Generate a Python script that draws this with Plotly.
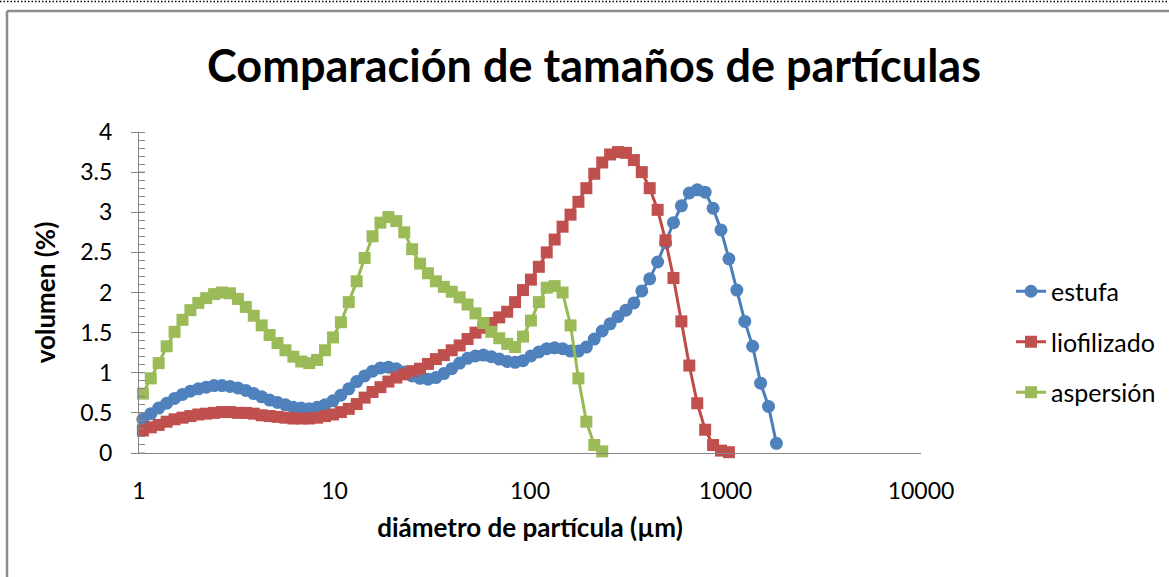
import plotly.graph_objects as go

# particle diameter classes (um)
x_um = [1.047, 1.149, 1.261, 1.385, 1.520, 1.669, 1.832, 2.011, 2.208, 2.423,
        2.660, 2.920, 3.206, 3.519, 3.863, 4.241, 4.656, 5.111, 5.611, 6.159,
        6.761, 7.422, 8.148, 8.944, 9.819, 10.78, 11.83, 12.99, 14.26, 15.65,
        17.18, 18.86, 20.71, 22.73, 24.95, 27.39, 30.07, 33.01, 36.24, 39.78,
        43.67, 47.94, 52.62, 57.77, 63.41, 69.61, 76.42, 83.89, 92.09, 101.1,
        111.0, 121.8, 133.7, 146.8, 161.2, 176.9, 194.2, 213.2, 234.1, 256.9,
        282.1, 309.6, 339.9, 373.1, 409.6, 449.7, 493.6, 541.9, 594.9, 653.0,
        716.9, 786.9, 863.9, 948.3, 1041, 1143, 1255, 1377, 1512, 1660,
        1822]

estufa = [0.42, 0.49, 0.56, 0.62, 0.68, 0.73, 0.77, 0.80, 0.82, 0.84,
          0.84, 0.83, 0.81, 0.78, 0.74, 0.70, 0.66, 0.63, 0.60, 0.57,
          0.56, 0.55, 0.57, 0.60, 0.65, 0.72, 0.80, 0.89, 0.96, 1.02,
          1.06, 1.07, 1.05, 1.01, 0.96, 0.93, 0.92, 0.94, 0.99, 1.05,
          1.12, 1.18, 1.21, 1.22, 1.20, 1.17, 1.14, 1.13, 1.15, 1.21,
          1.26, 1.30, 1.31, 1.30, 1.27, 1.27, 1.32, 1.42, 1.52, 1.61,
          1.70, 1.78, 1.87, 2.02, 2.17, 2.38, 2.62, 2.87, 3.08, 3.24,
          3.28, 3.25, 3.05, 2.78, 2.42, 2.03, 1.64, 1.33, 0.87, 0.58,
          0.12]

liofilizado = [0.28, 0.32, 0.35, 0.39, 0.42, 0.44, 0.46, 0.48, 0.49, 0.50,
               0.51, 0.51, 0.50, 0.50, 0.49, 0.47, 0.46, 0.45, 0.44, 0.43,
               0.43, 0.43, 0.44, 0.46, 0.48, 0.51, 0.55, 0.61, 0.69, 0.76,
               0.82, 0.89, 0.94, 0.98, 1.02, 1.05, 1.11, 1.17, 1.22, 1.28,
               1.34, 1.42, 1.50, 1.56, 1.62, 1.69, 1.76, 1.88, 2.03, 2.16,
               2.32, 2.50, 2.66, 2.82, 2.97, 3.13, 3.30, 3.48, 3.62, 3.72,
               3.75, 3.74, 3.65, 3.50, 3.30, 3.03, 2.65, 2.18, 1.64, 1.09,
               0.62, 0.29, 0.10, 0.03, 0.01]

aspersion = [0.74, 0.93, 1.12, 1.33, 1.51, 1.66, 1.78, 1.87, 1.93, 1.98,
             2.00, 1.99, 1.92, 1.82, 1.71, 1.59, 1.47, 1.37, 1.28, 1.20,
             1.14, 1.12, 1.16, 1.28, 1.44, 1.63, 1.88, 2.14, 2.43, 2.70,
             2.87, 2.94, 2.89, 2.75, 2.54, 2.36, 2.24, 2.14, 2.07, 2.01,
             1.94, 1.85, 1.74, 1.62, 1.51, 1.43, 1.36, 1.32, 1.45, 1.65,
             1.88, 2.06, 2.08, 2.00, 1.59, 0.93, 0.39, 0.10, 0.02]

series_names = ["estufa", "liofilizado", "aspersión"]
x_tickvals = [1, 10, 100, 1000, 10000]
x_ticktext = ["1", "10", "100", "1000", "10000"]
y_tickvals = [0, 0.5, 1, 1.5, 2, 2.5, 3, 3.5, 4]

FONT = "Lato, 'Liberation Sans', sans-serif"
W, H = 1169, 577
ML, MR, MT, MB = 139, 248, 132, 124
PW, PH = W - ML - MR, H - MT - MB


def px_to_paper_x(px):
    return (px - ML) / PW


def px_to_paper_y(py):
    return (H - MB - py) / PH


fig = go.Figure()
styles = [
    (estufa, "circle", 13, "#4F81BD", "#4A7EBB"),
    (liofilizado, "square", 12, "#C0504D", "#BE4B48"),
    (aspersion, "square", 12, "#9BBB59", "#98B954"),
]
for k, (vals, sym, size, mcol, lcol) in enumerate(styles):
    fig.add_trace(go.Scatter(
        x=x_um[:len(vals)], y=vals, name=series_names[k],
        mode="lines+markers", legendgroup=f"g{k}",
        line=dict(color=lcol, width=3),
        marker=dict(symbol=sym, size=size, color=mcol, line=dict(width=0)),
        cliponaxis=False,
    ))

shapes = []
# inner half of the crossing major ticks on the y axis
for v in y_tickvals:
    shapes.append(dict(type="line", xref="x domain", yref="y",
                       x0=0, x1=6 / PW, y0=v, y1=v,
                       line=dict(color="#868686", width=1)))
# chart border and dotted selection line
shapes.append(dict(type="line", xref="paper", yref="paper",
                   x0=px_to_paper_x(7), x1=px_to_paper_x(1175),
                   y0=px_to_paper_y(11), y1=px_to_paper_y(11),
                   line=dict(color="#8C8C8C", width=2.5)))
shapes.append(dict(type="line", xref="paper", yref="paper",
                   x0=px_to_paper_x(7), x1=px_to_paper_x(7),
                   y0=px_to_paper_y(11), y1=px_to_paper_y(590),
                   line=dict(color="#8C8C8C", width=2.5)))
shapes.append(dict(type="line", xref="paper", yref="paper",
                   x0=px_to_paper_x(0), x1=px_to_paper_x(1169),
                   y0=px_to_paper_y(1.5), y1=px_to_paper_y(1.5),
                   line=dict(color="#000000", width=1.5, dash="1.5px,2px")))

fig.update_layout(
    width=W, height=H,
    margin=dict(l=ML, r=MR, t=MT, b=MB, autoexpand=False),
    paper_bgcolor="white", plot_bgcolor="white",
    font=dict(family=FONT, color="#000000"),
    title=dict(text="<b>Comparación de tamaños de partículas</b>",
               font=dict(size=45, family=FONT, color="#000000"),
               x=594 / W, xanchor="center", xref="container",
               y=1 - 66 / H, yanchor="middle", yref="container"),
    xaxis=dict(type="log", range=[0, 4], tickvals=x_tickvals, ticktext=x_ticktext,
               showline=True, linecolor="#868686", linewidth=1,
               ticks="", showgrid=False, zeroline=False,
               tickfont=dict(size=23, family=FONT, color="#000000"),
               ticklabelstandoff=17,
               title=dict(text="<b>diámetro de partícula (µm)</b>",
                          font=dict(size=26, family=FONT, color="#000000"),
                          standoff=16)),
    yaxis=dict(range=[0, 4], tickvals=y_tickvals,
               showline=True, linecolor="#868686", linewidth=1,
               ticks="outside", ticklen=7, tickcolor="#868686", tickwidth=1,
               minor=dict(dtick=0.1, ticks="inside", ticklen=6,
                          tickcolor="#868686", tickwidth=1, showgrid=False),
               showgrid=False, zeroline=False,
               tickfont=dict(size=23, family=FONT, color="#000000"),
               ticklabelstandoff=14,
               title=dict(text="<b>volumen (%)</b>",
                          font=dict(size=26, family=FONT, color="#000000"),
                          standoff=17)),
    legend=dict(x=px_to_paper_x(1011), xanchor="left",
                y=px_to_paper_y(342), yanchor="middle",
                font=dict(size=25, family=FONT, color="#000000"),
                tracegroupgap=15, bgcolor="rgba(0,0,0,0)"),
    shapes=shapes,
)

fig.write_html("out.html")
